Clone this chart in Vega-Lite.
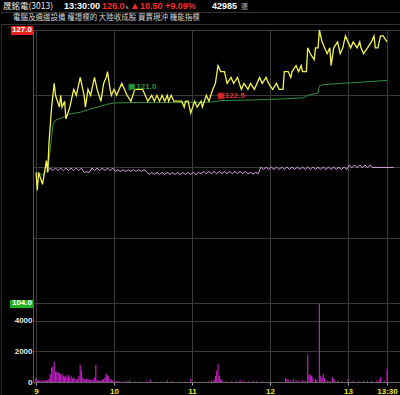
{
  "$schema": "https://vega.github.io/schema/vega-lite/v6.json",
  "background": "#000000",
  "padding": 0,
  "spacing": 0,
  "bounds": "flush",
  "config": {"view": {"stroke": null}},
  "datasets": {
    "head": [{"stock": "晟銘電(3013)", "time": "13:30:00", "close": 126.0, "chg": 10.5, "pct": 0.0909, "vol": 42985, "tags": "電腦及週邊設備 權證標的 大陸收成股 買賣現沖 機能指標"}],
    "price": [
      {"t":"09:00","p":115.0},{"t":"09:01","p":113.5},{"t":"09:02","p":115.0},{"t":"09:05","p":114.0},{"t":"09:08","p":116.0},{"t":"09:09","p":115.0},{"t":"09:10","p":117.5},{"t":"09:12","p":120.5},{"t":"09:14","p":122.5},{"t":"09:15","p":121.5},{"t":"09:18","p":120.5},{"t":"09:19","p":121.5},{"t":"09:20","p":120.5},{"t":"09:22","p":121.0},{"t":"09:23","p":119.5},{"t":"09:26","p":120.5},{"t":"09:27","p":121.0},{"t":"09:29","p":122.0},{"t":"09:31","p":121.5},{"t":"09:32","p":122.0},{"t":"09:34","p":123.0},{"t":"09:36","p":122.0},{"t":"09:37","p":121.5},{"t":"09:38","p":120.5},{"t":"09:40","p":122.0},{"t":"09:42","p":121.5},{"t":"09:44","p":122.5},{"t":"09:45","p":123.0},{"t":"09:47","p":122.0},{"t":"09:50","p":121.0},{"t":"09:52","p":122.5},{"t":"09:54","p":123.0},{"t":"09:55","p":123.5},{"t":"09:57","p":122.0},{"t":"09:58","p":121.5},{"t":"10:00","p":122.0},{"t":"10:02","p":121.5},{"t":"10:04","p":122.0},{"t":"10:06","p":122.5},{"t":"10:08","p":122.0},{"t":"10:10","p":121.5},{"t":"10:13","p":121.0},{"t":"10:16","p":122.0},{"t":"10:19","p":122.0},{"t":"10:22","p":122.0},{"t":"10:26","p":121.0},{"t":"10:29","p":121.5},{"t":"10:31","p":121.0},{"t":"10:33","p":121.5},{"t":"10:35","p":121.0},{"t":"10:37","p":121.5},{"t":"10:39","p":121.0},{"t":"10:41","p":121.5},{"t":"10:42","p":121.0},{"t":"10:44","p":121.5},{"t":"10:46","p":121.0},{"t":"10:49","p":121.0},{"t":"10:52","p":121.0},{"t":"10:54","p":120.5},{"t":"10:55","p":121.0},{"t":"10:57","p":121.0},{"t":"10:59","p":120.0},{"t":"11:02","p":121.0},{"t":"11:04","p":120.5},{"t":"11:07","p":121.0},{"t":"11:08","p":120.5},{"t":"11:11","p":121.5},{"t":"11:13","p":121.0},{"t":"11:16","p":122.0},{"t":"11:18","p":122.5},{"t":"11:20","p":124.0},{"t":"11:22","p":123.5},{"t":"11:25","p":123.5},{"t":"11:27","p":122.5},{"t":"11:30","p":123.0},{"t":"11:32","p":122.5},{"t":"11:35","p":123.0},{"t":"11:38","p":122.0},{"t":"11:40","p":122.5},{"t":"11:43","p":122.0},{"t":"11:45","p":122.5},{"t":"11:48","p":122.0},{"t":"11:52","p":123.0},{"t":"11:54","p":122.5},{"t":"11:57","p":123.0},{"t":"11:59","p":122.5},{"t":"12:02","p":122.0},{"t":"12:05","p":122.5},{"t":"12:07","p":122.0},{"t":"12:10","p":122.0},{"t":"12:11","p":123.5},{"t":"12:14","p":123.5},{"t":"12:16","p":123.0},{"t":"12:17","p":123.5},{"t":"12:20","p":124.0},{"t":"12:22","p":123.5},{"t":"12:24","p":124.0},{"t":"12:25","p":123.5},{"t":"12:28","p":123.5},{"t":"12:29","p":125.5},{"t":"12:31","p":125.0},{"t":"12:34","p":124.5},{"t":"12:35","p":125.5},{"t":"12:37","p":125.5},{"t":"12:38","p":127.0},{"t":"12:40","p":126.0},{"t":"12:42","p":125.5},{"t":"12:44","p":125.0},{"t":"12:46","p":125.5},{"t":"12:47","p":124.0},{"t":"12:49","p":125.5},{"t":"12:52","p":126.0},{"t":"12:54","p":125.0},{"t":"12:56","p":125.5},{"t":"12:58","p":126.5},{"t":"13:00","p":126.0},{"t":"13:02","p":125.5},{"t":"13:04","p":126.0},{"t":"13:07","p":125.5},{"t":"13:09","p":126.0},{"t":"13:10","p":125.5},{"t":"13:12","p":125.0},{"t":"13:15","p":125.5},{"t":"13:18","p":126.0},{"t":"13:20","p":126.5},{"t":"13:21","p":125.5},{"t":"13:23","p":125.5},{"t":"13:25","p":126.5},{"t":"13:27","p":126.5},{"t":"13:30","p":126.0}
    ],
    "avg": [
      {"t":"09:00","p":115.0},{"t":"09:05","p":114.8},{"t":"09:09","p":115.2},{"t":"09:11","p":117.0},{"t":"09:13","p":119.0},{"t":"09:15","p":119.4},{"t":"09:20","p":119.6},{"t":"09:25","p":119.9},{"t":"09:35","p":120.1},{"t":"09:42","p":120.35},{"t":"09:47","p":120.5},{"t":"09:55","p":120.75},{"t":"10:00","p":120.85},{"t":"10:20","p":120.9},{"t":"11:07","p":120.9},{"t":"11:17","p":120.95},{"t":"11:22","p":121.05},{"t":"11:45","p":121.1},{"t":"12:11","p":121.2},{"t":"12:26","p":121.3},{"t":"12:29","p":121.5},{"t":"12:37","p":121.7},{"t":"12:38","p":122.3},{"t":"12:41","p":122.4},{"t":"13:02","p":122.55},{"t":"13:30","p":122.75}
    ],
    "pink": [
      {"t":"09:09","v":115.1},{"t":"09:11","v":115.37},{"t":"09:13","v":115.15},{"t":"09:15","v":115.37},{"t":"09:17","v":115.15},{"t":"09:19","v":115.37},{"t":"09:21","v":115.15},{"t":"09:23","v":115.37},{"t":"09:25","v":115.15},{"t":"09:27","v":115.37},{"t":"09:29","v":115.15},{"t":"09:31","v":115.37},{"t":"09:33","v":115.15},{"t":"09:35","v":115.37},{"t":"09:37","v":115.0},{"t":"09:39","v":115.05},{"t":"09:41","v":115.0},{"t":"09:43","v":115.37},{"t":"09:45","v":115.15},{"t":"09:47","v":115.37},{"t":"09:49","v":115.15},{"t":"09:51","v":115.37},{"t":"09:53","v":115.15},{"t":"09:55","v":115.37},{"t":"09:57","v":115.15},{"t":"09:59","v":115.37},
      {"t":"10:01","v":115.08},{"t":"10:03","v":115.23},{"t":"10:05","v":115.08},{"t":"10:07","v":115.23},{"t":"10:09","v":115.08},{"t":"10:11","v":115.23},{"t":"10:13","v":115.08},{"t":"10:15","v":115.23},{"t":"10:17","v":115.08},{"t":"10:19","v":115.23},{"t":"10:21","v":115.08},{"t":"10:23","v":115.23},{"t":"10:25","v":115.08},
      {"t":"10:27","v":114.83},{"t":"10:29","v":115.0},{"t":"10:31","v":114.83},{"t":"10:33","v":115.0},{"t":"10:35","v":114.83},{"t":"10:37","v":115.0},{"t":"10:39","v":114.83},{"t":"10:41","v":115.0},{"t":"10:43","v":114.83},{"t":"10:45","v":115.0},{"t":"10:47","v":114.83},{"t":"10:49","v":115.0},{"t":"10:51","v":114.83},{"t":"10:53","v":115.0},{"t":"10:55","v":114.83},{"t":"10:57","v":115.0},{"t":"10:59","v":114.83},{"t":"11:01","v":115.0},{"t":"11:03","v":114.83},{"t":"11:05","v":115.0},
      {"t":"11:07","v":114.9},{"t":"11:09","v":115.08},{"t":"11:11","v":114.9},{"t":"11:13","v":115.08},{"t":"11:15","v":114.9},{"t":"11:17","v":115.08},{"t":"11:19","v":114.9},{"t":"11:21","v":115.08},{"t":"11:23","v":114.9},{"t":"11:25","v":115.08},{"t":"11:27","v":114.9},{"t":"11:29","v":115.08},{"t":"11:31","v":114.9},{"t":"11:33","v":115.08},{"t":"11:35","v":114.9},{"t":"11:37","v":115.08},{"t":"11:39","v":114.9},{"t":"11:41","v":115.08},{"t":"11:43","v":114.88},{"t":"11:45","v":115.0},{"t":"11:47","v":114.86},{"t":"11:49","v":115.0},{"t":"11:51","v":114.9},
      {"t":"11:53","v":115.45},{"t":"11:55","v":115.25},{"t":"11:57","v":115.45},{"t":"11:59","v":115.25},{"t":"12:01","v":115.45},{"t":"12:03","v":115.25},{"t":"12:05","v":115.45},{"t":"12:07","v":115.25},{"t":"12:09","v":115.45},{"t":"12:11","v":115.25},{"t":"12:13","v":115.45},{"t":"12:15","v":115.25},{"t":"12:17","v":115.45},{"t":"12:19","v":115.25},{"t":"12:21","v":115.45},{"t":"12:23","v":115.25},{"t":"12:25","v":115.45},{"t":"12:27","v":115.25},{"t":"12:29","v":115.45},{"t":"12:31","v":115.25},{"t":"12:33","v":115.45},{"t":"12:35","v":115.25},{"t":"12:37","v":115.45},{"t":"12:39","v":115.25},{"t":"12:41","v":115.45},{"t":"12:43","v":115.25},{"t":"12:45","v":115.45},{"t":"12:47","v":115.25},{"t":"12:49","v":115.45},{"t":"12:51","v":115.25},{"t":"12:53","v":115.45},{"t":"12:55","v":115.25},{"t":"12:57","v":115.45},{"t":"12:59","v":115.25},
      {"t":"13:01","v":115.63},{"t":"13:03","v":115.4},{"t":"13:05","v":115.63},{"t":"13:07","v":115.4},{"t":"13:09","v":115.63},{"t":"13:11","v":115.4},{"t":"13:13","v":115.63},{"t":"13:15","v":115.4},{"t":"13:17","v":115.63},{"t":"13:19","v":115.42},{"t":"13:35","v":115.42}
    ],
    "notes": [{"t":"10:11","p":122.2,"label":"▣121.0","kind":"avg"},{"t":"11:19","p":121.4,"label":"▣122.5","kind":"mark"}],
    "limits": [{"p":127.0,"label":"127.0"},{"p":104.0,"label":"104.0"}],
    "vol": [
      {"t":"09:00","v":270},{"t":"09:01","v":90},{"t":"09:02","v":110},{"t":"09:03","v":80},{"t":"09:04","v":100},{"t":"09:05","v":70},{"t":"09:06","v":120},{"t":"09:07","v":90},{"t":"09:08","v":110},{"t":"09:09","v":130},{"t":"09:10","v":200},{"t":"09:11","v":500},{"t":"09:12","v":930},{"t":"09:13","v":1000},{"t":"09:14","v":1330},{"t":"09:15","v":700},{"t":"09:16","v":650},{"t":"09:17","v":620},{"t":"09:18","v":600},{"t":"09:19","v":480},{"t":"09:20","v":550},{"t":"09:21","v":400},{"t":"09:22","v":350},{"t":"09:23","v":420},{"t":"09:24","v":300},{"t":"09:25","v":470},{"t":"09:26","v":250},{"t":"09:27","v":380},{"t":"09:28","v":220},{"t":"09:29","v":300},{"t":"09:30","v":230},{"t":"09:31","v":150},{"t":"09:32","v":200},{"t":"09:33","v":400},{"t":"09:34","v":1130},{"t":"09:35","v":750},{"t":"09:36","v":300},{"t":"09:37","v":200},{"t":"09:38","v":150},{"t":"09:39","v":220},{"t":"09:40","v":200},{"t":"09:41","v":170},{"t":"09:42","v":130},{"t":"09:43","v":160},{"t":"09:44","v":120},{"t":"09:45","v":300},{"t":"09:46","v":1130},{"t":"09:47","v":120},{"t":"09:48","v":100},{"t":"09:49","v":90},{"t":"09:50","v":120},{"t":"09:51","v":150},{"t":"09:52","v":200},{"t":"09:53","v":300},{"t":"09:54","v":530},{"t":"09:55","v":450},{"t":"09:56","v":370},{"t":"09:57","v":200},{"t":"09:58","v":150},{"t":"09:59","v":100},{"t":"10:00","v":80},{"t":"10:02","v":60},{"t":"10:04","v":50},{"t":"10:07","v":40},{"t":"10:10","v":60},{"t":"10:12","v":120},{"t":"10:16","v":40},{"t":"10:20","v":30},{"t":"10:25","v":50},{"t":"10:28","v":150},{"t":"10:32","v":40},{"t":"10:36","v":30},{"t":"10:41","v":110},{"t":"10:45","v":40},{"t":"10:50","v":30},{"t":"10:55","v":40},{"t":"10:59","v":220},{"t":"11:02","v":40},{"t":"11:08","v":30},{"t":"11:13","v":50},{"t":"11:15","v":100},{"t":"11:17","v":150},{"t":"11:18","v":400},{"t":"11:19","v":730},{"t":"11:20","v":1200},{"t":"11:21","v":400},{"t":"11:22","v":200},{"t":"11:23","v":120},{"t":"11:26","v":60},{"t":"11:30","v":50},{"t":"11:34","v":90},{"t":"11:37","v":150},{"t":"11:40","v":60},{"t":"11:44","v":50},{"t":"11:47","v":60},{"t":"11:50","v":60},{"t":"11:54","v":50},{"t":"12:00","v":30},{"t":"12:06","v":40},{"t":"12:12","v":270},{"t":"12:13","v":200},{"t":"12:14","v":130},{"t":"12:16","v":100},{"t":"12:18","v":200},{"t":"12:20","v":120},{"t":"12:22","v":80},{"t":"12:25","v":120},{"t":"12:27","v":60},{"t":"12:29","v":1800},{"t":"12:30","v":470},{"t":"12:31","v":470},{"t":"12:32","v":400},{"t":"12:33","v":300},{"t":"12:35","v":200},{"t":"12:36","v":120},{"t":"12:38","v":5130},{"t":"12:39","v":370},{"t":"12:40","v":300},{"t":"12:41","v":530},{"t":"12:42","v":250},{"t":"12:44","v":100},{"t":"12:46","v":60},{"t":"12:48","v":330},{"t":"12:49","v":200},{"t":"12:50","v":120},{"t":"12:52","v":80},{"t":"12:55","v":50},{"t":"13:00","v":200},{"t":"13:04","v":80},{"t":"13:08","v":60},{"t":"13:12","v":70},{"t":"13:15","v":50},{"t":"13:18","v":60},{"t":"13:22","v":80},{"t":"13:24","v":120},{"t":"13:25","v":330},{"t":"13:28","v":60},{"t":"13:30","v":870}
    ]
  },
  "vconcat": [
    {
      "width": 368,
      "height": 30,
      "data": {"name": "head"},
      "layer": [
        {"mark": {"type": "rule", "color": "#333333", "strokeWidth": 1},
         "encoding": {"x": {"datum": 0, "type": "quantitative", "scale": {"domain": [32, 400], "nice": false, "zero": false}, "axis": null}, "x2": {"datum": 400},
                      "y": {"datum": 12.5, "type": "quantitative", "scale": {"domain": [30, 0], "nice": false, "zero": false}, "axis": null}}},
        {"mark": {"type": "rule", "color": "#333333", "strokeWidth": 1},
         "encoding": {"x": {"datum": 0, "type": "quantitative"}, "x2": {"datum": 400}, "y": {"datum": 24.5, "type": "quantitative"}}},
        {"mark": {"type": "rule", "color": "#5e1616", "strokeWidth": 1},
         "encoding": {"x": {"datum": 0.5, "type": "quantitative"}, "y": {"datum": 25, "type": "quantitative"}, "y2": {"datum": 395}}},
        {"mark": {"type": "text", "align": "left", "baseline": "middle", "font": "Noto Sans CJK TC", "fontSize": 8.5, "color": "#e6e6e6"},
         "encoding": {"x": {"datum": 2, "type": "quantitative"}, "y": {"datum": 6, "type": "quantitative"}, "text": {"field": "stock"}}},
        {"mark": {"type": "text", "align": "left", "baseline": "middle", "font": "Liberation Sans", "fontSize": 9, "fontWeight": "bold", "color": "#ffffff"},
         "encoding": {"x": {"datum": 63, "type": "quantitative"}, "y": {"datum": 6, "type": "quantitative"}, "text": {"field": "time"}}},
        {"mark": {"type": "text", "align": "left", "baseline": "middle", "font": "Liberation Sans", "fontSize": 9, "fontWeight": "bold", "color": "#ff2b2b"},
         "encoding": {"x": {"datum": 101, "type": "quantitative"}, "y": {"datum": 6, "type": "quantitative"}, "text": {"field": "close", "format": ".1f"}}},
        {"mark": {"type": "text", "align": "left", "baseline": "middle", "font": "Liberation Sans", "fontSize": 6, "color": "#bbbbbb", "text": "s"},
         "encoding": {"x": {"datum": 124.5, "type": "quantitative"}, "y": {"datum": 7, "type": "quantitative"}}},
        {"mark": {"type": "text", "align": "left", "baseline": "middle", "font": "DejaVu Sans", "fontSize": 7.5, "color": "#ff2b2b", "text": "▲"},
         "encoding": {"x": {"datum": 131, "type": "quantitative"}, "y": {"datum": 6, "type": "quantitative"}}},
        {"mark": {"type": "text", "align": "left", "baseline": "middle", "font": "Liberation Sans", "fontSize": 9, "fontWeight": "bold", "color": "#ff2b2b"},
         "encoding": {"x": {"datum": 139, "type": "quantitative"}, "y": {"datum": 6, "type": "quantitative"}, "text": {"field": "chg", "format": ".2f"}}},
        {"mark": {"type": "text", "align": "left", "baseline": "middle", "font": "Liberation Sans", "fontSize": 9, "fontWeight": "bold", "color": "#ff2b2b"},
         "encoding": {"x": {"datum": 164, "type": "quantitative"}, "y": {"datum": 6, "type": "quantitative"}, "text": {"field": "pct", "format": "+.2%"}}},
        {"mark": {"type": "text", "align": "left", "baseline": "middle", "font": "Liberation Sans", "fontSize": 9, "fontWeight": "bold", "color": "#ffffff"},
         "encoding": {"x": {"datum": 211, "type": "quantitative"}, "y": {"datum": 6, "type": "quantitative"}, "text": {"field": "vol", "format": "d"}}},
        {"mark": {"type": "text", "align": "left", "baseline": "middle", "font": "Noto Sans CJK TC", "fontSize": 7, "color": "#bbbbbb", "text": "張"},
         "encoding": {"x": {"datum": 240, "type": "quantitative"}, "y": {"datum": 7, "type": "quantitative"}}},
        {"mark": {"type": "text", "align": "left", "baseline": "middle", "font": "Noto Sans CJK TC", "fontSize": 7.5, "color": "#d6d6d6"},
         "encoding": {"x": {"datum": 12, "type": "quantitative"}, "y": {"datum": 17.5, "type": "quantitative"}, "text": {"field": "tags"}}}
      ]
    },
    {
      "width": 368,
      "height": 273,
      "layer": [
        {"data": {"name": "avg", "format": {"parse": {"t": "utc:'%H:%M'"}}},
         "mark": {"type": "line", "color": "#2f8f3a", "strokeWidth": 1},
         "encoding": {
           "x": {"field": "t", "type": "temporal",
                 "scale": {"type": "utc", "domain": [{"year": 1900, "month": 1, "date": 1, "hours": 8, "minutes": 57, "seconds": 41, "utc": true}, {"year": 1900, "month": 1, "date": 1, "hours": 13, "minutes": 40, "seconds": 46, "utc": true}]},
                 "axis": {"values": [{"year": 1900, "month": 1, "date": 1, "hours": 9, "utc": true}, {"year": 1900, "month": 1, "date": 1, "hours": 10, "utc": true}, {"year": 1900, "month": 1, "date": 1, "hours": 11, "utc": true}, {"year": 1900, "month": 1, "date": 1, "hours": 12, "utc": true}, {"year": 1900, "month": 1, "date": 1, "hours": 13, "utc": true}, {"year": 1900, "month": 1, "date": 1, "hours": 13, "minutes": 30, "utc": true}],
                          "labels": false, "ticks": false, "domain": false, "grid": true, "gridColor": "#3a3a3a", "title": null, "minExtent": 0, "maxExtent": 0}},
           "y": {"field": "p", "type": "quantitative",
                 "scale": {"domain": [104, 127], "nice": false, "zero": false},
                 "axis": {"values": [104, 106.5, 109.5, 112.5, 115.5, 118.5, 121.5, 124.5, 127], "title": null, "ticks": false, "domain": true, "domainColor": "#5a5a5a",
                          "labelPadding": 1, "labelFont": "Liberation Sans", "labelFontSize": 8, "labelFontWeight": "bold",
                          "labelExpr": "datum.value == 127 || datum.value == 104 ? '' : format(datum.value, '.1f')",
                          "grid": true, "gridColor": "#3a3a3a",
                          "encode": {"labels": {"update": {"fill": {"signal": "datum.value > 115.5 ? '#ee2525' : datum.value < 115.5 ? '#27c727' : '#ffffff'"}}},
                                     "grid": {"update": {"stroke": {"signal": "datum.value == 127 || datum.value == 104 ? '#8c8c8c' : '#3a3a3a'"}}}}}}
         }},
        {"data": {"name": "pink", "format": {"parse": {"t": "utc:'%H:%M'"}}},
         "mark": {"type": "line", "color": "#d9a3e6", "strokeWidth": 1},
         "encoding": {"x": {"field": "t", "type": "temporal"}, "y": {"field": "v", "type": "quantitative"}}},
        {"data": {"name": "price", "format": {"parse": {"t": "utc:'%H:%M'"}}},
         "mark": {"type": "line", "color": "#f4f44c", "strokeWidth": 1.3},
         "encoding": {"x": {"field": "t", "type": "temporal"}, "y": {"field": "p", "type": "quantitative"}}},
        {"data": {"name": "notes", "format": {"parse": {"t": "utc:'%H:%M'"}}},
         "mark": {"type": "text", "align": "left", "baseline": "middle", "font": "Liberation Sans", "fontSize": 8, "fontWeight": "bold"},
         "encoding": {"x": {"field": "t", "type": "temporal"}, "y": {"field": "p", "type": "quantitative"}, "text": {"field": "label"},
                      "color": {"field": "kind", "type": "nominal", "scale": {"domain": ["avg", "mark"], "range": ["#2a9a35", "#e02a2a"]}, "legend": null}}},
        {"data": {"name": "limits"},
         "mark": {"type": "rect", "color": "#e8201c", "clip": false},
         "encoding": {"x": {"datum": {"year": 1900, "month": 1, "date": 1, "hours": 8, "minutes": 40, "seconds": 46, "utc": true}, "type": "temporal"},
                      "x2": {"datum": {"year": 1900, "month": 1, "date": 1, "hours": 8, "minutes": 57, "seconds": 41, "utc": true}},
                      "y": {"datum": 127.34, "type": "quantitative"}, "y2": {"datum": 126.58}}},
        {"data": {"name": "limits"},
         "mark": {"type": "rect", "color": "#1fb21f", "clip": false},
         "encoding": {"x": {"datum": {"year": 1900, "month": 1, "date": 1, "hours": 8, "minutes": 39, "seconds": 59, "utc": true}, "type": "temporal"},
                      "x2": {"datum": {"year": 1900, "month": 1, "date": 1, "hours": 8, "minutes": 57, "seconds": 41, "utc": true}},
                      "y": {"datum": 104.25, "type": "quantitative"}, "y2": {"datum": 103.58}}},
        {"data": {"name": "limits"},
         "mark": {"type": "text", "align": "right", "baseline": "middle", "font": "Liberation Sans", "fontSize": 8, "fontWeight": "bold", "color": "#ffffff", "clip": false},
         "encoding": {"x": {"datum": {"year": 1900, "month": 1, "date": 1, "hours": 8, "minutes": 56, "seconds": 55, "utc": true}, "type": "temporal"},
                      "y": {"field": "p", "type": "quantitative"}, "text": {"field": "label"}}}
      ]
    },
    {
      "width": 368,
      "height": 79,
      "data": {"name": "vol", "format": {"parse": {"t": "utc:'%H:%M'"}}},
      "mark": {"type": "rule", "color": "#c21dc2", "strokeWidth": 1.2},
      "encoding": {
        "x": {"field": "t", "type": "temporal",
              "scale": {"type": "utc", "domain": [{"year": 1900, "month": 1, "date": 1, "hours": 8, "minutes": 57, "seconds": 41, "utc": true}, {"year": 1900, "month": 1, "date": 1, "hours": 13, "minutes": 40, "seconds": 46, "utc": true}]},
              "axis": {"values": [{"year": 1900, "month": 1, "date": 1, "hours": 9, "utc": true}, {"year": 1900, "month": 1, "date": 1, "hours": 10, "utc": true}, {"year": 1900, "month": 1, "date": 1, "hours": 11, "utc": true}, {"year": 1900, "month": 1, "date": 1, "hours": 12, "utc": true}, {"year": 1900, "month": 1, "date": 1, "hours": 13, "utc": true}, {"year": 1900, "month": 1, "date": 1, "hours": 13, "minutes": 30, "utc": true}],
                       "labelExpr": "utcminutes(datum.value) == 30 ? '13:30' : '' + utchours(datum.value)",
                       "labelColor": "#e8e830", "labelFont": "Liberation Sans", "labelFontSize": 8, "labelFontWeight": "bold", "labelPadding": 2, "labelFlush": false,
                       "tickColor": "#aaaaaa", "tickSize": 3, "domain": true, "domainColor": "#666666", "grid": true, "gridColor": "#3a3a3a", "title": null}},
        "y": {"field": "v", "type": "quantitative",
              "scale": {"domain": [0, 5180], "nice": false, "zero": true},
              "axis": {"values": [0, 2000, 4000], "format": "d", "title": null, "ticks": false, "domain": true, "domainColor": "#5a5a5a",
                       "labelPadding": 1, "labelColor": "#e6e6e6", "labelFont": "Liberation Sans", "labelFontSize": 8, "labelFontWeight": "bold",
                       "grid": true, "gridColor": "#3a3a3a"}},
        "y2": {"datum": 0}
      }
    }
  ]
}
